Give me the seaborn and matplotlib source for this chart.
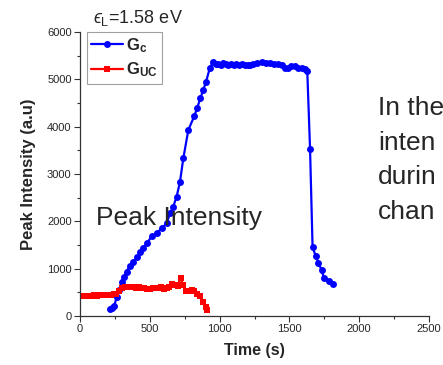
import matplotlib
matplotlib.use("Agg")
import matplotlib.pyplot as plt
import seaborn as sns
import pandas as pd
from matplotlib.ticker import MultipleLocator

# ---- data ----
t_c = [215, 227, 245, 262, 282, 298, 315, 334, 358, 382, 410, 430, 453, 482, 513,
       549, 585, 621, 645, 668, 692, 716, 740, 776, 819, 840, 862, 883, 903, 931,
       955, 975, 990, 1010, 1026, 1045, 1062, 1080, 1100, 1120, 1140, 1160, 1180,
       1200, 1220, 1241, 1270, 1301, 1330, 1361, 1390, 1420, 1445, 1469, 1490,
       1510, 1540, 1565, 1588, 1610, 1628, 1648, 1666, 1690, 1707, 1731, 1748,
       1786, 1810]
g_c = [140, 165, 210, 395, 550, 725, 830, 940, 1060, 1150, 1240, 1360, 1430, 1550,
       1680, 1750, 1850, 1960, 2170, 2310, 2520, 2830, 3330, 3930, 4225, 4400, 4600,
       4775, 4950, 5250, 5370, 5330, 5320, 5300, 5340, 5320, 5310, 5330, 5310, 5320,
       5310, 5320, 5300, 5310, 5300, 5320, 5340, 5370, 5340, 5340, 5330, 5325, 5300,
       5240, 5240, 5280, 5280, 5250, 5230, 5210, 5180, 3520, 1450, 1260, 1125, 970,
       800, 730, 670]

t_uc = [0, 20, 40, 60, 80, 100, 120, 140, 160, 180, 200, 220, 240, 260, 280, 300,
        320, 340, 360, 380, 400, 420, 440, 460, 480, 500, 520, 540, 560, 580, 600,
        620, 640, 660, 680, 700, 720, 740, 760, 780, 800, 820, 840, 860, 880, 900, 910]
g_uc = [430, 425, 430, 425, 430, 435, 430, 440, 435, 445, 440, 450, 455, 470, 530,
        600, 620, 615, 610, 605, 600, 610, 600, 595, 580, 575, 590, 600, 595, 610,
        560, 600, 620, 680, 660, 640, 810, 650, 520, 530, 540, 530, 470, 420, 300,
        180, 130]

x_ticks = [0, 500, 1000, 1500, 2000, 2500]
y_ticks = [0, 1000, 2000, 3000, 4000, 5000, 6000]

df_c = pd.DataFrame({"t": t_c, "v": g_c})
df_uc = pd.DataFrame({"t": t_uc, "v": g_uc})

sns.set_style("ticks")
plt.rcParams["font.family"] = ["Liberation Sans", "DejaVu Sans"]
plt.rcParams["mathtext.fontset"] = "custom"
plt.rcParams["mathtext.rm"] = "Liberation Sans"
plt.rcParams["mathtext.it"] = "Liberation Sans:italic"
plt.rcParams["mathtext.bf"] = "Liberation Sans:bold"
plt.rcParams["mathtext.fallback"] = "cm"

fig = plt.figure(figsize=(4.43, 3.65), dpi=100)
ax = fig.add_axes([80 / 443, 1 - 316 / 365, 349 / 443, 284 / 365])

sns.lineplot(data=df_c, x="t", y="v", ax=ax, color="#0000ff", marker="o",
             markersize=5, markeredgewidth=0, linewidth=1.6, sort=False,
             label=r"$\mathbf{G_{c}}$")
sns.lineplot(data=df_uc, x="t", y="v", ax=ax, color="#ff0000", marker="s",
             markersize=4.2, markeredgewidth=0, linewidth=1.6, sort=False,
             label=r"$\mathbf{G_{UC}}$")

ax.set_xlim(0, 2500)
ax.set_ylim(0, 6000)
ax.set_xticks(x_ticks)
ax.set_yticks(y_ticks)
ax.xaxis.set_minor_locator(MultipleLocator(250))
ax.yaxis.set_minor_locator(MultipleLocator(500))
ax.tick_params(which="major", length=4, width=0.8, labelsize=8, color="#333333",
               direction="out", pad=2)
ax.tick_params(which="minor", length=2.5, width=0.8, color="#333333", direction="out")
for s in ["top", "right"]:
    ax.spines[s].set_visible(False)
for s in ["left", "bottom"]:
    ax.spines[s].set_color("#333333")
    ax.spines[s].set_linewidth(0.9)

ax.set_xlabel("Time (s)", fontsize=11.5, fontweight="bold", labelpad=6)
ax.set_ylabel("Peak Intensity (a.u)", fontsize=12, fontweight="bold", labelpad=8)

leg = ax.legend(loc="upper left", bbox_to_anchor=(0.02, 1.0), fontsize=12,
                frameon=True, fancybox=False, handlelength=1.9, borderpad=0.25,
                labelspacing=0.35, handletextpad=0.2, borderaxespad=0.0)
leg.get_frame().set_edgecolor("#888888")
leg.get_frame().set_linewidth(0.8)

fig.text(93 / 443, 1 - 18 / 365, "$\u03f5_{\\rm L}$=1.58 eV", fontsize=13,
         ha="left", va="center")
fig.text(96 / 443, 1 - 218 / 365, "Peak Intensity", fontsize=19,
         ha="left", va="center")
fig.text(378 / 443, 1 - 160 / 365, "In the\ninten\ndurin\nchan", fontsize=19,
         ha="left", va="center", linespacing=1.55)

fig.savefig("out.png", dpi=100)
